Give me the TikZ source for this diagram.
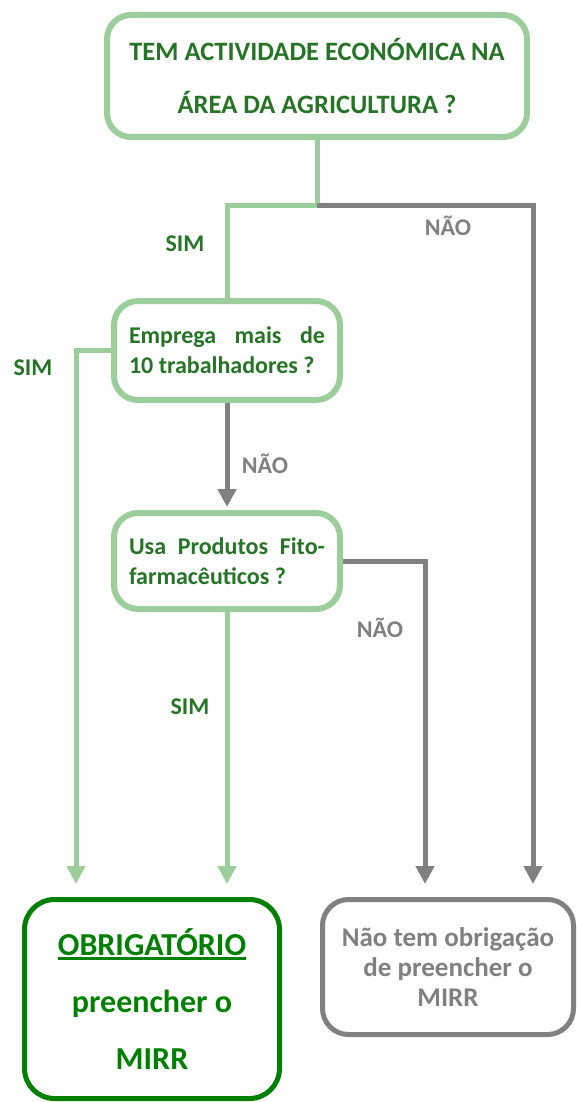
\documentclass[tikz,border=0pt]{standalone}
\usepackage{fontspec}
\setmainfont{Carlito}
\usetikzlibrary{arrows.meta,calc}
\definecolor{lgreen}{RGB}{155,206,155}
\definecolor{dgreen}{RGB}{38,116,38}
\definecolor{pgreen}{RGB}{0,128,0}
\definecolor{mgray}{RGB}{128,128,128}
\newcommand\thickul[1]{\setbox0\hbox{#1}\rlap{\raisebox{-4.5pt}{\rule{\wd0}{2.6pt}}}\box0}
\tikzset{
  x=1pt,y=-1pt,
  qbox/.style={draw=lgreen,line width=6pt,rounded corners=24pt,fill=white,inner sep=0pt,
    text=dgreen,font=\bfseries},
  gline/.style={draw=lgreen,line width=5pt},
  kline/.style={draw=mgray,line width=5pt},
  garrow/.style={gline,-{Triangle[width=18pt,length=18pt]}},
  karrow/.style={kline,-{Triangle[width=18pt,length=18pt]}},
  glabel/.style={text=dgreen,font=\fontsize{24}{28}\selectfont\bfseries,inner sep=0pt},
  klabel/.style={text=mgray,font=\fontsize{24}{28}\selectfont\bfseries,inner sep=0pt},
}
\begin{document}
\begin{tikzpicture}
\useasboundingbox (0,0) rectangle (576,1102);
% boxes
\node[qbox,minimum width=420pt,minimum height=122pt,align=center,
  font=\fontsize{26.5}{53}\selectfont\bfseries] (top) at (317,76)
  {TEM ACTIVIDADE ECONÓMICA NA\\ÁREA DA AGRICULTURA ?};
\node[qbox,minimum width=226pt,minimum height=99pt,text width=196pt,align=justify,
  font=\fontsize{24}{30}\selectfont\bfseries] (emp) at (227,350.5)
  {Emprega mais de\linebreak 10 trabalhadores ?};
\node[qbox,minimum width=226pt,minimum height=96pt,text width=196pt,align=justify,
  font=\fontsize{24}{30}\selectfont\bfseries] (usa) at (227,561)
  {Usa Produtos Fito-\linebreak farmacêuticos ?};
\node[draw=pgreen,line width=5pt,rounded corners=30pt,inner sep=0pt,text=pgreen,
  minimum width=255pt,minimum height=199pt,align=center,
  font=\fontsize{32}{57}\selectfont\bfseries] (ob) at (152,999)
  {\thickul{OBRIGATÓRIO}\\preencher o\\MIRR};
\node[draw=mgray,line width=5pt,rounded corners=26pt,inner sep=0pt,text=mgray,
  minimum width=251pt,minimum height=135pt,align=center,
  font=\fontsize{27}{30}\selectfont\bfseries] (nao) at (448,967)
  {Não tem obrigação\\de preencher o\\MIRR};
% junctions
\coordinate (j1) at (317,205);
\coordinate (c1) at (533,205);
\coordinate (c2) at (76,350.5);
\coordinate (c3) at (425,561);
% connectors
\draw[gline] (top.south) -- (j1) -| (emp.north);
\draw[karrow,shorten >=13pt] (j1) -- (c1) -- (c1 |- nao.north);
\draw[garrow,shorten >=13pt] (emp.west) -- (c2) -- (c2 |- ob.north);
\draw[karrow,shorten >=3pt] (emp.south) -- (usa.north);
\draw[karrow,shorten >=13pt] (usa.east) -- (c3) -- (c3 |- nao.north);
\draw[garrow,shorten >=13pt] (usa.south) -- (usa.south |- ob.north);
% labels
\node[klabel] (l1) at (448,226) {NÃO};
\node[glabel] (l2) at (185,244) {SIM};
\node[glabel] (l3) at (33,368) {SIM};
\node[klabel] (l4) at (265,464) {NÃO};
\node[klabel] (l5) at (380,628) {NÃO};
\node[glabel] (l6) at (190,707) {SIM};
\end{tikzpicture}
\end{document}
